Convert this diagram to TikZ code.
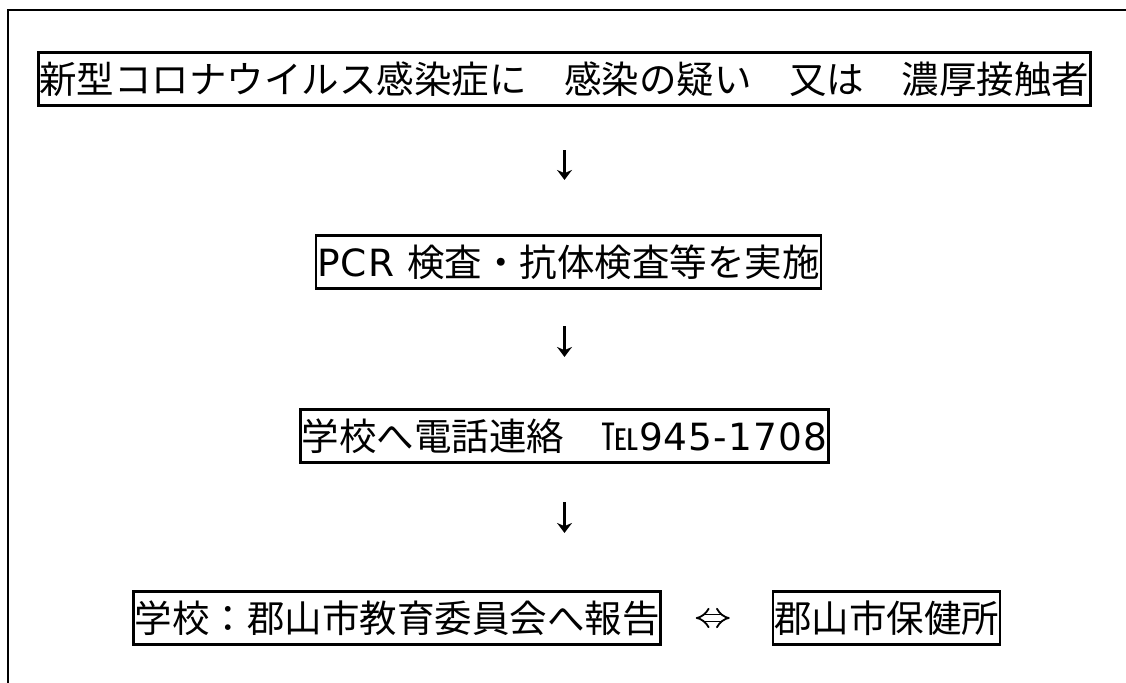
\documentclass[tikz,border=0pt]{standalone}
\usepackage{fontspec}
\setmainfont{Noto Sans CJK JP}
\newfontfamily\latinpart[LetterSpace=3]{DejaVu Sans}
\usetikzlibrary{arrows.meta}

\begin{document}
\begin{tikzpicture}[x=0.5pt,y=-0.5pt,
    box/.style={draw,line width=1.3pt,inner xsep=0.5pt,inner ysep=4pt,
      text height=16.5pt,text depth=2.25pt,font=\fontsize{18.75pt}{22pt}\selectfont},
    flow/.style={line width=1.3pt,-{Stealth[width=7.5pt,length=5pt]}},
    link/.style={double,line width=0.9pt,double distance=2.6pt,
      {Implies[length=3pt,width=8pt]}-{Implies[length=3pt,width=8pt]}}]
    \useasboundingbox (0,0) rectangle (1126,683);
    % open frame
    \draw[line width=1.3pt] (8,683)--(8,10)--(1126,10);
    \node[box] (case)   at (564.5,79)  {新型コロナウイルス感染症に　感染の疑い　又は　濃厚接触者};
    \node[box] (test)   at (568.5,262) {{\latinpart PCR }検査・抗体検査等を実施};
    \node[box] (call)   at (564.5,436) {学校へ電話連絡　℡{\latinpart 945-1708}};
    \node[box] (report) at (397,618)   {学校：郡山市教育委員会へ報告};
    \node[box] (health) at (886.5,618) {郡山市保健所};
    \draw[flow,shorten <=21.5pt,shorten >=27pt] (case.south)--(case.south |- test.north);
    \draw[flow,shorten <=18pt,shorten >=25.5pt] (call.north |- test.south)--(call.north);
    \draw[flow,shorten <=19pt,shorten >=28.5pt] (call.south)--(call.south |- report.north);
    \draw[link,shorten <=17pt,shorten >=21pt] (report.east)--(health.west);
\end{tikzpicture}
\end{document}
